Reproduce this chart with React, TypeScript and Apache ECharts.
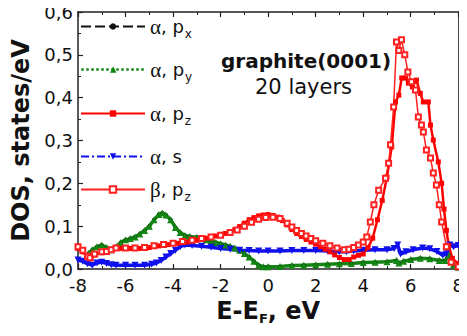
import React, { useEffect, useRef } from "react";
import * as echarts from "echarts";

// energies (eV) and DOS (states/eV)
const alphaPx: [number, number][] = [
  [-7.55, 0.037], [-7.4, 0.045], [-7.2, 0.052], [-7.0, 0.056], [-6.8, 0.05], [-6.6, 0.045],
  [-6.4, 0.052], [-6.2, 0.062], [-6.0, 0.068], [-5.8, 0.071], [-5.6, 0.075], [-5.4, 0.082],
  [-5.2, 0.09], [-5.0, 0.1], [-4.8, 0.115], [-4.6, 0.127], [-4.45, 0.131], [-4.3, 0.126],
  [-4.1, 0.115], [-3.9, 0.097], [-3.7, 0.085], [-3.5, 0.078], [-3.3, 0.076], [-3.0, 0.074],
  [-2.8, 0.072], [-2.6, 0.068], [-2.4, 0.065], [-2.2, 0.062], [-2.0, 0.059], [-1.8, 0.056],
  [-1.6, 0.053], [-1.4, 0.049], [-1.2, 0.044], [-1.0, 0.036], [-0.8, 0.028], [-0.6, 0.018],
  [-0.4, 0.009], [-0.2, 0.005], [0.0, 0.005], [0.5, 0.006], [1.0, 0.008], [1.5, 0.009],
  [2.0, 0.01], [2.5, 0.011], [3.0, 0.012], [3.5, 0.013], [4.0, 0.015], [4.5, 0.016],
  [5.0, 0.017], [5.4, 0.02], [5.5, 0.014], [5.7, 0.018], [6.0, 0.022], [6.4, 0.025],
  [6.8, 0.024], [7.2, 0.02], [7.45, 0.02], [7.6, 0.033], [7.8, 0.01], [8.0, 0.004],
];
const alphaPy: [number, number][] = alphaPx.map((p) => [p[0], p[1]]);

const alphaPz: [number, number][] = [
  [-8.0, 0.048], [-7.8, 0.04], [-7.6, 0.028], [-7.45, 0.024], [-7.3, 0.033], [-7.0, 0.038],
  [-6.6, 0.045], [-6.2, 0.048], [-5.8, 0.048], [-5.4, 0.048], [-5.0, 0.05], [-4.6, 0.054],
  [-4.2, 0.057], [-3.8, 0.06], [-3.4, 0.063], [-3.0, 0.067], [-2.6, 0.072], [-2.2, 0.077],
  [-1.8, 0.083], [-1.4, 0.092], [-1.2, 0.099], [-1.0, 0.107], [-0.8, 0.115], [-0.6, 0.12],
  [-0.4, 0.124], [-0.2, 0.126], [0.0, 0.127], [0.2, 0.125], [0.4, 0.121], [0.6, 0.113],
  [0.8, 0.103], [1.0, 0.092], [1.2, 0.083], [1.4, 0.076], [1.6, 0.069], [1.8, 0.063],
  [2.0, 0.058], [2.2, 0.052], [2.4, 0.046], [2.6, 0.04], [2.8, 0.033], [3.0, 0.027],
  [3.2, 0.022], [3.4, 0.022], [3.6, 0.028], [3.8, 0.032], [4.0, 0.035], [4.2, 0.05],
  [4.4, 0.072], [4.6, 0.115], [4.8, 0.16], [5.0, 0.215], [5.2, 0.285], [5.36, 0.39],
  [5.5, 0.406], [5.62, 0.446], [5.78, 0.446], [5.9, 0.434], [6.07, 0.425], [6.24, 0.441],
  [6.4, 0.41], [6.53, 0.39], [6.74, 0.39], [6.83, 0.336], [6.95, 0.301], [7.16, 0.25],
  [7.3, 0.2], [7.4, 0.14], [7.5, 0.09], [7.6, 0.055], [7.75, 0.025], [8.0, 0.012],
];

const alphaS: [number, number][] = [
  [-8.0, 0.021], [-7.8, 0.018], [-7.6, 0.012], [-7.4, 0.009], [-7.2, 0.014], [-7.0, 0.016],
  [-6.8, 0.013], [-6.6, 0.01], [-6.4, 0.009], [-6.0, 0.009], [-5.6, 0.009], [-5.2, 0.009],
  [-4.9, 0.011], [-4.7, 0.014], [-4.5, 0.02], [-4.3, 0.028], [-4.1, 0.036], [-3.9, 0.044],
  [-3.7, 0.052], [-3.5, 0.056], [-3.2, 0.055], [-2.8, 0.053], [-2.4, 0.051], [-2.0, 0.048],
  [-1.6, 0.046], [-1.2, 0.044], [-0.8, 0.043], [-0.4, 0.042], [0.0, 0.042], [0.5, 0.042],
  [1.0, 0.043], [1.5, 0.043], [2.0, 0.043], [2.5, 0.042], [3.0, 0.04], [3.3, 0.04],
  [3.6, 0.042], [4.0, 0.044], [4.5, 0.045], [5.0, 0.045], [5.3, 0.048], [5.45, 0.056],
  [5.57, 0.035], [5.8, 0.04], [6.1, 0.045], [6.5, 0.049], [6.8, 0.047], [7.1, 0.041],
  [7.35, 0.032], [7.5, 0.035], [7.65, 0.056], [7.8, 0.052], [8.0, 0.055],
];

const betaPz: [number, number][] = [
  [-8.0, 0.052], [-7.8, 0.044], [-7.6, 0.03], [-7.5, 0.026], [-7.3, 0.035], [-7.0, 0.04],
  [-6.8, 0.041], [-6.6, 0.045], [-6.4, 0.049], [-6.0, 0.049], [-5.6, 0.049], [-5.2, 0.05],
  [-4.8, 0.054], [-4.4, 0.057], [-4.0, 0.06], [-3.6, 0.064], [-3.2, 0.067], [-2.8, 0.071],
  [-2.4, 0.075], [-2.0, 0.079], [-1.6, 0.085], [-1.3, 0.091], [-1.0, 0.1], [-0.7, 0.109],
  [-0.4, 0.116], [-0.1, 0.12], [0.2, 0.121], [0.5, 0.118], [0.8, 0.107], [1.0, 0.098],
  [1.2, 0.09], [1.4, 0.083], [1.6, 0.077], [1.8, 0.071], [2.0, 0.066], [2.3, 0.06],
  [2.6, 0.054], [2.9, 0.049], [3.2, 0.045], [3.4, 0.046], [3.6, 0.05], [3.8, 0.056],
  [4.0, 0.063], [4.15, 0.075], [4.3, 0.11], [4.45, 0.15], [4.65, 0.184], [4.94, 0.212],
  [5.07, 0.247], [5.15, 0.29], [5.28, 0.378], [5.4, 0.53], [5.5, 0.51], [5.61, 0.535],
  [5.75, 0.5], [5.88, 0.46], [6.03, 0.437], [6.2, 0.418], [6.32, 0.355], [6.45, 0.336],
  [6.53, 0.32], [6.66, 0.278], [6.83, 0.259], [6.95, 0.224], [7.08, 0.196], [7.2, 0.15],
  [7.3, 0.11], [7.5, 0.052], [7.7, 0.016], [8.0, 0.005],
];

const legendLabels = [
  "{a|α}{n|, p}{s|x}",
  "{a|α}{n|, p}{s|y}",
  "{a|α}{n|, p}{s|z}",
  "{a|α}{n|, s}",
  "{a|β}{n|, p}{s|z}",
];
const seriesNames = ["apx", "apy", "apz", "as", "bpz"];
const legendTops = [16, 59, 103, 146, 179];

const SANS = "DejaVu Sans";
const GREEN = "#138513";
const BLUE = "#1010ee";

export default function App() {
  const ref = useRef<HTMLDivElement>(null);
  useEffect(() => {
    if (!ref.current) return;
    const chart = echarts.init(ref.current, null, { renderer: "svg" });
    const rich = {
      a: { fontFamily: "Liberation Serif", fontSize: 21, color: "#111" },
      n: { fontFamily: SANS, fontSize: 18, color: "#111" },
      s: { fontFamily: SANS, fontSize: 12, color: "#111", padding: [14, 0, 0, 1], verticalAlign: "bottom" },
    };
    const legendLine: Record<string, any> = {
      apx: { color: "#111", width: 2, type: [10, 4] },
      apy: { color: GREEN, width: 2.5, type: "dotted" },
      apz: { color: "#ff0000", width: 2, type: "solid" },
      as: { color: BLUE, width: 2, type: [8, 3, 2, 3] },
      bpz: { color: "#ff2020", width: 2, type: "solid" },
    };
    const tick = { inside: true, length: 5, lineStyle: { color: "#222", width: 1.2 } };
    const minor = { show: true, splitNumber: 2, length: 3, lineStyle: { color: "#222", width: 1 } };
    const fmt = (v: number) => v.toFixed(1).replace(".", ",");
    chart.setOption({
      animation: false,
      backgroundColor: "#fff",
      grid: { left: 78, right: 7, top: 12, bottom: 67 },
      xAxis: [
        {
          type: "value", min: -8, max: 8, interval: 2,
          axisLine: { show: true, onZero: false, lineStyle: { color: "#222", width: 1.5 } },
          splitLine: { show: false },
          axisTick: tick,
          minorTick: minor,
          axisLabel: { fontFamily: SANS, fontSize: 18, color: "#111", margin: 7 },
          name: "{b|E-E}{sub|F}{b|, eV}",
          nameLocation: "middle",
          nameGap: 26,
          nameTextStyle: {
            rich: {
              b: { fontFamily: SANS, fontWeight: "bold", fontSize: 24, color: "#111" },
              sub: { fontFamily: SANS, fontWeight: "bold", fontSize: 13, color: "#111", padding: [16, 0, 0, 0], verticalAlign: "bottom" },
            },
          },
        },
        {
          type: "value", min: -8, max: 8, interval: 2, position: "top",
          axisLine: { show: true, onZero: false, lineStyle: { color: "#222", width: 1.5 } },
          splitLine: { show: false },
          axisTick: tick,
          minorTick: minor,
          axisLabel: { show: false },
        },
      ],
      yAxis: [
        {
          type: "value", min: 0, max: 0.6, interval: 0.1, position: "left",
          axisLine: { show: true, onZero: false, lineStyle: { color: "#222", width: 1.5 } },
          splitLine: { show: false },
          axisTick: tick,
          minorTick: minor,
          axisLabel: { fontFamily: SANS, fontSize: 18, color: "#111", margin: 5, formatter: fmt },
          name: "DOS, states/eV",
          nameLocation: "middle",
          nameGap: 42,
          nameTextStyle: { fontFamily: SANS, fontWeight: "bold", fontSize: 24, color: "#111" },
        },
        {
          type: "value", min: 0, max: 0.6, interval: 0.1, position: "right",
          axisLine: { show: true, onZero: false, lineStyle: { color: "#444", width: 2 } },
          splitLine: { show: false },
          axisTick: { show: false },
          axisLabel: { show: false },
        },
      ],
      legend: seriesNames.map((n, i) => ({
        data: [{ name: n, lineStyle: legendLine[n] }],
        left: 80,
        top: legendTops[i],
        orient: "vertical",
        padding: 0,
        itemWidth: 64,
        itemHeight: 8,
        selectedMode: false,
        formatter: () => legendLabels[i],
        textStyle: { rich },
      })),
      graphic: [
        {
          type: "text", left: 307 - 86, top: 51,
          style: { text: "graphite(0001)", fontFamily: SANS, fontWeight: "bold", fontSize: 20, fill: "#111" },
        },
        {
          type: "text", left: 306 - 51, top: 76,
          style: { text: "20 layers", fontFamily: SANS, fontSize: 21, fill: "#111" },
        },
      ],
      series: [
        {
          name: "apx", type: "line", data: alphaPx, symbol: "circle", symbolSize: 4,
          itemStyle: { color: "#111" }, lineStyle: { color: "#111", width: 2, type: [10, 4] },
        },
        {
          name: "apy", type: "line", data: alphaPy, symbol: "triangle", symbolSize: 7,
          itemStyle: { color: GREEN }, lineStyle: { color: GREEN, width: 3.5, type: "solid" },
        },
        {
          name: "as", type: "line", data: alphaS, symbol: "triangle", symbolRotate: 180, symbolSize: 7,
          itemStyle: { color: BLUE }, lineStyle: { color: BLUE, width: 3.5, type: "solid" },
        },
        {
          name: "apz", type: "line", data: alphaPz, symbol: "rect", symbolSize: 5,
          itemStyle: { color: "#ff0000" }, lineStyle: { color: "#ff0000", width: 2.5, type: "solid" },
        },
        {
          name: "bpz", type: "line", data: betaPz, symbol: "emptyRect", symbolSize: 5,
          itemStyle: { color: "#ff2020", borderColor: "#ff2020", borderWidth: 1 },
          lineStyle: { color: "#ff2020", width: 1.5, type: "solid" },
        },
      ],
    });
    return () => chart.dispose();
  }, []);
  return <div ref={ref} style={{ width: 467, height: 336, margin: -8 }} />;
}
